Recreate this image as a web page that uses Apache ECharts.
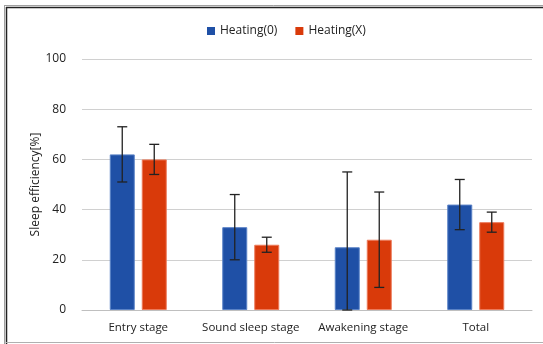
<!DOCTYPE html>
<html>
<head>
<meta charset="utf-8">
<script src="https://cdn.jsdelivr.net/npm/echarts@6/dist/echarts.min.js"></script>
<style>
  html, body { margin: 0; padding: 0; background: #ffffff; }
  #chart { width: 543px; height: 344px; }
</style>
</head>
<body>
<div id="chart"></div>
<script>
// Sleep efficiency per sleep stage, with and without heating
const categories = ['Entry stage', 'Sound sleep stage', 'Awakening stage', 'Total'];
const heatingOn = [62, 33, 25, 42];
const heatingOnSd = [11, 13, 30, 10];
const heatingOff = [60, 26, 28, 35];
const heatingOffSd = [6, 3, 19, 4];
const yTicks = [0, 20, 40, 60, 80, 100];

const seriesNames = ['Heating(0)', 'Heating(X)'];
const colors = ['#1f50a6', '#d93a0a'];
const borders = ['#5a82c6', '#ec7a5a'];

const FONT = 'Open Sans';
const BAR_W = 25;
const BAR_GAP = 7;

function errorSeries(idx, means, sds) {
  const data = means.map((m, i) => [i, Math.max(0, m - sds[i]), m + sds[i]]);
  return {
    type: 'custom',
    name: seriesNames[idx] + ' sd',
    z: 10,
    silent: true,
    data: data,
    renderItem: function (params, api) {
      const x = api.value(0);
      const lo = api.coord([x, api.value(1)]);
      const hi = api.coord([x, api.value(2)]);
      const offset = (idx === 0 ? -1 : 1) * (BAR_W + BAR_GAP) / 2;
      const cx = lo[0] + offset;
      const cap = 5;
      const style = { stroke: '#222222', lineWidth: 1.3 };
      return {
        type: 'group',
        children: [
          { type: 'line', shape: { x1: cx, y1: lo[1], x2: cx, y2: hi[1] }, style: style },
          { type: 'line', shape: { x1: cx - cap, y1: hi[1], x2: cx + cap, y2: hi[1] }, style: style },
          { type: 'line', shape: { x1: cx - cap, y1: lo[1], x2: cx + cap, y2: lo[1] }, style: style }
        ]
      };
    }
  };
}

const chart = echarts.init(document.getElementById('chart'), null, { renderer: 'canvas' });
chart.setOption({
  animation: false,
  backgroundColor: '#ffffff',
  textStyle: { fontFamily: FONT },
  legend: {
    data: seriesNames,
    top: 20,
    left: 202,
    itemWidth: 8,
    itemHeight: 8,
    itemGap: 18,
    icon: 'rect',
    itemStyle: { borderWidth: 0 },
    textStyle: { fontFamily: FONT, fontSize: 12, color: '#222222' }
  },
  grid: { left: 82, right: 11, top: 59, bottom: 34, containLabel: false },
  xAxis: {
    type: 'category',
    data: categories,
    axisLine: { show: true, lineStyle: { color: '#bfbfbf', width: 1 } },
    axisTick: { show: false },
    axisLabel: { interval: 0, fontFamily: FONT, fontSize: 11.5, color: '#222222', margin: 12 }
  },
  yAxis: {
    type: 'value',
    min: 0,
    max: 100,
    interval: 20,
    name: 'Sleep efficiency[%]',
    nameLocation: 'middle',
    nameGap: 40,
    nameMoveOverlap: false,
    nameTextStyle: { fontFamily: FONT, fontSize: 12, color: '#222222' },
    axisLine: { show: false },
    axisTick: { show: false },
    axisLabel: {
      fontFamily: FONT, fontSize: 12, color: '#222222', margin: 16,
      formatter: v => (yTicks.includes(v) ? String(v) : '')
    },
    splitLine: { lineStyle: { color: '#d0d0d0', width: 1 } }
  },
  series: [
    {
      name: seriesNames[0], type: 'bar', data: heatingOn, barWidth: BAR_W, barGap: '28%',
      itemStyle: { color: colors[0], borderColor: borders[0], borderWidth: 1 }
    },
    {
      name: seriesNames[1], type: 'bar', data: heatingOff, barWidth: BAR_W, barGap: '28%',
      itemStyle: { color: colors[1], borderColor: borders[1], borderWidth: 1 }
    },
    errorSeries(0, heatingOn, heatingOnSd),
    errorSeries(1, heatingOff, heatingOffSd)
  ],
  graphic: [
    // frame around the figure
    { type: 'line', shape: { x1: 4.5, y1: 5.5, x2: 543, y2: 5.5 }, style: { stroke: '#a0a0a0', lineWidth: 1 } },
    { type: 'line', shape: { x1: 6, y1: 7.5, x2: 543, y2: 7.5 }, style: { stroke: '#222222', lineWidth: 1.5 } },
    { type: 'line', shape: { x1: 4.5, y1: 5, x2: 4.5, y2: 344 }, style: { stroke: '#a0a0a0', lineWidth: 1 } },
    { type: 'line', shape: { x1: 6.5, y1: 7, x2: 6.5, y2: 344 }, style: { stroke: '#222222', lineWidth: 1.5 } },
    { type: 'line', shape: { x1: 6, y1: 342.5, x2: 543, y2: 342.5 }, style: { stroke: '#b0b0b0', lineWidth: 1 } }
  ]
});
</script>
</body>
</html>
